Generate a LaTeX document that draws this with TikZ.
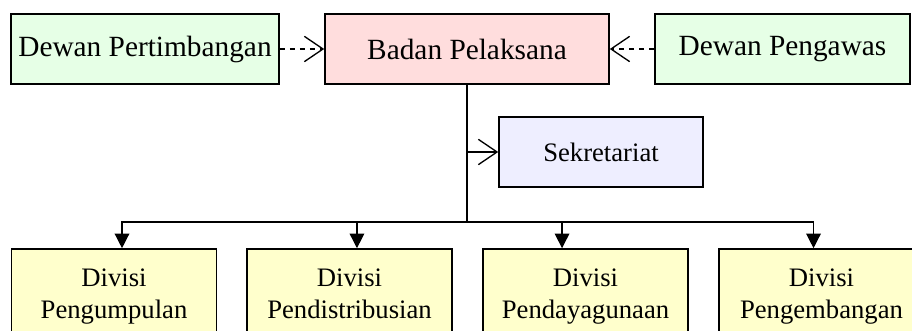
\documentclass[tikz,border=0pt]{standalone}
\usepackage{fontspec}
\setmainfont{Liberation Serif}
\usetikzlibrary{arrows.meta}
\definecolor{boxgreen}{RGB}{230,255,230}
\definecolor{boxred}{RGB}{255,221,221}
\definecolor{boxblue}{RGB}{238,238,255}
\definecolor{boxyellow}{RGB}{255,255,204}
\tikzset{
    unit/.style = {rectangle, draw=black, line width=1.2pt, minimum height=52.5pt, inner sep=0pt, align=center},
    boxg/.style = {unit, fill=boxgreen},
    boxr/.style = {unit, fill=boxred},
    boxb/.style = {unit, fill=boxblue, font=\fontsize{20}{24.5}\selectfont},
    boxy/.style = {unit, fill=boxyellow, minimum width=153.75pt, minimum height=72pt, text depth=5pt, font=\fontsize{20}{24.5}\selectfont},
    edgeo/.style = {-{Straight Barb[length=14pt,width=19pt]}, line width=1pt},
    edged/.style = {edgeo, dash pattern=on 4pt off 3.5pt}, % advisory
    edgen/.style = {-{Triangle[length=11pt,width=11pt]}, line width=1pt},
    every picture/.style={font issue=\fontsize{22}{26}},
    font issue/.style={execute at begin picture={#1\selectfont}}
}
\begin{document}
\begin{tikzpicture}[x=0.75pt,y=-0.75pt]
\clip (0,0) rectangle (912,331);
\fill[white] (0,0) rectangle (912,331);
%
\node[boxg, minimum width=201pt] at (145,49) (dp) {Dewan Pertimbangan};
\node[boxr, minimum width=213pt] at (467,49) (bp) {Badan Pelaksana};
\node[boxg, minimum width=191.25pt] at (782.5,49) (dw) {Dewan Pengawas};
\node[boxb, minimum width=153pt] at (601,152) (sek) {Sekretariat};
\node[boxy] at (114,297) (d1) {Divisi\\Pengumpulan};
\node[boxy] at (349.5,297) (d2) {Divisi\\Pendistribusian};
\node[boxy] at (585.5,297) (d3) {Divisi\\Pendayagunaan};
\node[boxy] at (821.5,297) (d4) {Divisi\\Pengembangan};
\coordinate (hub) at (467,222);
\coordinate (sekjoin) at (bp.south |- sek.west);
%
\draw[edged] (dp) -- (bp);
\draw[edged] (dw) -- (bp);
\draw[line width=1pt] (bp.south) -- (hub);
\draw[edgeo] (sekjoin) -- (sek.west);
\draw[edgen] (hub) -| ([xshift=6pt]d1.north);
\draw[edgen] (hub) -| ([xshift=5.6pt]d2.north);
\draw[edgen] (hub) -| ([xshift=-17.6pt]d3.north);
\draw[edgen] (hub) -| ([xshift=-6pt]d4.north);
\end{tikzpicture}
\end{document}
